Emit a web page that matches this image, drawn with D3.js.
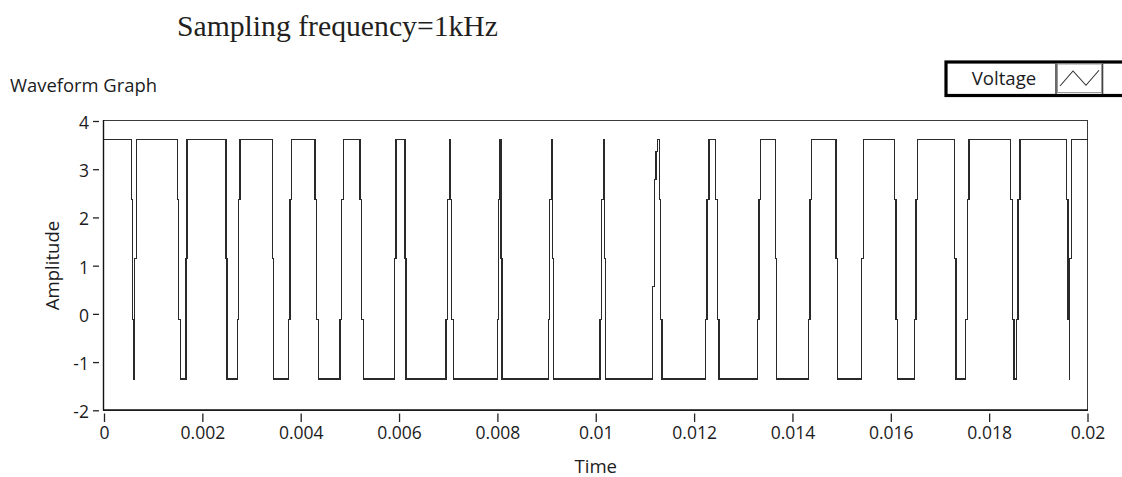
<!DOCTYPE html>
<html><head><meta charset="utf-8">
<script src="https://cdn.jsdelivr.net/npm/d3@7"></script>
<style>
html,body{margin:0;padding:0;background:#fff;}
svg{display:block;}
text{font-family:"Open Sans",sans-serif;fill:#1b1b22;}
</style></head><body>
<svg id="chart" width="1122" height="477"></svg>
<script>
// ---- data (time in seconds, voltage in V; step changes) ----
const times = [
  0, 0.0005633, 0.0005836, 0.0006101, 0.0006243, 0.0006568,
  0.0014987, 0.0015190, 0.0015597, 0.0016675, 0.0016878,
  0.0024809, 0.0025012, 0.0027188, 0.0027391, 0.0027656,
  0.0034305, 0.0034508, 0.0037518, 0.0037823, 0.0038169,
  0.0042907, 0.0043253, 0.0043578, 0.0047991, 0.0048336, 0.0048662,
  0.0052058, 0.0052403, 0.0052729, 0.0059033, 0.0059378,
  0.0061208, 0.0061412, 0.0069546, 0.0069810, 0.0070217,
  0.0070501, 0.0070705, 0.0071030, 0.0079978, 0.0080262, 0.0080527,
  0.0080730, 0.0080933, 0.0090348, 0.0090633, 0.0091040,
  0.0091162, 0.0091365, 0.0100862, 0.0101126, 0.0101533,
  0.0101736, 0.0101940, 0.0111578, 0.0111903, 0.0112249, 0.0112514,
  0.0112920, 0.0113205, 0.0113469, 0.0122356, 0.0122620, 0.0123027,
  0.0124390, 0.0124715, 0.0125060, 0.0132849, 0.0133194, 0.0133459,
  0.0136509, 0.0136794, 0.0143220, 0.0143565, 0.0143911,
  0.0148852, 0.0149196, 0.0154077, 0.0154404,
  0.0160708, 0.0161053, 0.0161399, 0.0164775, 0.0165120, 0.0165466,
  0.0172909, 0.0173254, 0.0175227, 0.0175552, 0.0175898,
  0.0184377, 0.0184703, 0.0185049, 0.0185516, 0.0185862, 0.0186269,
  0.0195765, 0.0196030, 0.0196294, 0.0196395, 0.0196700,
  0.02
];
const volts = [
  3.62, 2.38, -0.11, -1.35, 1.15, 3.62,
  2.38, -0.11, -1.35, 1.15, 3.62,
  1.15, -1.35, -0.11, 2.38, 3.62,
  1.15, -1.35, -0.11, 2.38, 3.62,
  2.38, -0.11, -1.35, -0.11, 2.38, 3.62,
  2.38, -0.11, -1.35, 1.15, 3.62,
  1.15, -1.35, -0.11, 2.38, 3.62,
  2.38, -0.11, -1.35, -0.11, 2.38, 3.62,
  1.15, -1.35, -0.11, 2.38, 3.62,
  1.15, -1.35, -0.11, 2.38, 3.62,
  1.15, -1.35, 0.56, 2.78, 3.36, 3.62,
  2.38, -0.11, -1.35, -0.11, 2.38, 3.62,
  2.38, -0.11, -1.35, -0.11, 2.38, 3.62,
  1.15, -1.35, -0.11, 2.38, 3.62,
  1.15, -1.35, 1.15, 3.62,
  2.38, -0.11, -1.35, -0.11, 2.38, 3.62,
  1.15, -1.35, -0.11, 2.38, 3.62,
  2.38, -0.11, -1.35, -0.11, 2.38, 3.62,
  2.38, -0.11, -1.35, 1.15, 3.62,
  3.62
];
const xTicks = [0, 0.002, 0.004, 0.006, 0.008, 0.01, 0.012, 0.014, 0.016, 0.018, 0.02];
const xTickLabels = ["0","0.002","0.004","0.006","0.008","0.01","0.012","0.014","0.016","0.018","0.02"];
const yTicks = [-2, -1, 0, 1, 2, 3, 4];
const yTickLabels = ["-2","-1","0","1","2","3","4"];
const seriesName = "Voltage";
const graphName = "Waveform Graph";
const headline = "Sampling frequency=1kHz";

// ---- drawing ----
const svg = d3.select("#chart");
const pLeft = 104, pRight = 1087.5, pTop = 121, pBottom = 410.3;
const x = d3.scaleLinear().domain([0, 0.02]).range([pLeft, pRight]);
const y = d3.scaleLinear().domain([-2, 4]).range([pBottom, pTop]);

svg.append("rect").attr("width",1122).attr("height",477).attr("fill","#fff");

// headline
svg.append("text").attr("x",177).attr("y",35.5)
  .style("font-family",'"Liberation Serif","Times New Roman",serif')
  .style("font-size","29.7px").style("fill","#231f20").text(headline);

// graph label
svg.append("text").attr("x",10).attr("y",92).style("font-size","18.4px").text(graphName);

// plot frame
svg.append("rect").attr("x",103.5).attr("y",120).attr("width",984).attr("height",290)
  .attr("fill","#fff").attr("stroke","#3a3a3a").attr("stroke-width",1).attr("shape-rendering","crispEdges");
svg.append("line").attr("x1",103.5).attr("x2",103.5).attr("y1",120).attr("y2",410.5)
  .attr("stroke","#111").attr("stroke-width",1.4);
svg.append("line").attr("x1",103.5).attr("x2",1088).attr("y1",410).attr("y2",410)
  .attr("stroke","#111").attr("stroke-width",1.4);

// waveform
const data = times.map((t,i)=>({t, v: volts[i]}));
const line = d3.line().x(d=>x(d.t)).y(d=>y(d.v)).curve(d3.curveStepAfter);
svg.append("path").datum(data).attr("d", line)
  .attr("fill","none").attr("stroke","#2a2a2a").attr("stroke-width",1.1)
  .attr("shape-rendering","crispEdges");

// y axis
const yAxis = d3.axisLeft(y).tickValues(yTicks).tickSize(6).tickPadding(4)
  .tickFormat((d,i)=>yTickLabels[i]);
const gy = svg.append("g").attr("transform","translate(99,0)").call(yAxis);
gy.select(".domain").remove();
gy.selectAll("line").attr("stroke","#222").attr("stroke-width",1.3);
gy.selectAll("text").style("font-size","17.5px").attr("dy","0.42em").style("font-family",'"Open Sans",sans-serif').attr("fill","#1b1b22");

// x axis
const xAxis = d3.axisBottom(x).tickValues(xTicks).tickSize(8.5).tickPadding(5)
  .tickFormat((d,i)=>xTickLabels[i]);
const gx = svg.append("g").attr("transform","translate(0,413.5)").call(xAxis);
gx.select(".domain").remove();
gx.selectAll("line").attr("stroke","#222").attr("stroke-width",1.3);
gx.selectAll("text").style("font-size","17.5px").style("font-family",'"Open Sans",sans-serif').attr("fill","#1b1b22");

// axis titles
svg.append("text").attr("x",(pLeft+pRight)/2).attr("y",473).attr("text-anchor","middle")
  .style("font-size","18.6px").text("Time");
svg.append("text").attr("transform","translate(59,265.5) rotate(-90)").attr("text-anchor","middle")
  .style("font-size","18.6px").text("Amplitude");

// legend
const lg = svg.append("g");
lg.append("rect").attr("x",946).attr("y",62).attr("width",200).attr("height",33.5)
  .attr("fill","#fff").attr("stroke","#000").attr("stroke-width",3.2);
lg.append("line").attr("x1",1056).attr("x2",1056).attr("y1",63.5).attr("y2",94)
  .attr("stroke","#444").attr("stroke-width",1.6);
lg.append("line").attr("x1",1102.5).attr("x2",1102.5).attr("y1",63.5).attr("y2",94)
  .attr("stroke","#444").attr("stroke-width",1.6);
lg.append("rect").attr("x",1057.5).attr("y",64).attr("width",44).attr("height",28.5)
  .attr("fill","#fff").attr("stroke","#9a9a9a").attr("stroke-width",1);
lg.append("text").attr("x",1004).attr("y",85).attr("text-anchor","middle")
  .style("font-size","18.6px").text(seriesName);
const iconX = d3.scaleLinear().domain([0,3]).range([1060,1099]);
const iconY = d3.scaleLinear().domain([0,1]).range([86,71]);
const iconPts = [[0,0],[1,1],[2,0.05],[3,1.05]];
lg.append("path").attr("d", d3.line().x(d=>iconX(d[0])).y(d=>iconY(d[1]))(iconPts))
  .attr("fill","none").attr("stroke","#333").attr("stroke-width",1.1);
</script>
</body></html>
